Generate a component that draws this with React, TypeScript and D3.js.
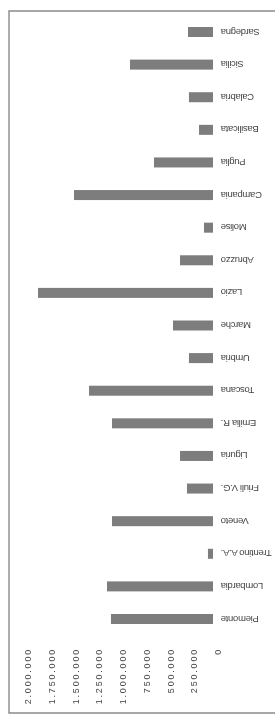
import React, { useRef, useEffect } from 'react';
import * as d3 from 'd3';

// regions, top of the picture first (the chart is turned a quarter left)
const regions = [
  'Sardegna', 'Sicilia', 'Calabria', 'Basilicata', 'Puglia', 'Campania',
  'Molise', 'Abruzzo', 'Lazio', 'Marche', 'Umbria', 'Toscana', 'Emilia R.',
  'Liguria', 'Friuli V.G.', 'Veneto', 'Trentino A.A.', 'Lombardia', 'Piemonte',
];
const values = [
  263000, 874000, 253000, 147000, 621000, 1463000,
  95000, 347000, 1842000, 421000, 253000, 1305000, 1063000,
  347000, 274000, 1063000, 53000, 1116000, 1074000,
];
const ticks = [0, 250000, 500000, 750000, 1000000, 1250000, 1500000, 1750000, 2000000];

const W = 275;
const H = 718;

const App = () => {
  const svgRef = useRef<SVGSVGElement>(null);

  useEffect(() => {
    const svg = d3.select(svgRef.current);
    svg.selectAll('*').remove();

    const fmt = d3.formatLocale({ decimal: ',', thousands: '.', grouping: [3], currency: ['', ''] }).format(',d');

    svg.append('defs').append('filter')
      .attr('id', 'soft')
      .append('feGaussianBlur')
      .attr('stdDeviation', 0.5);

    const g = svg.append('g').attr('filter', 'url(#soft)');

    const x = d3.scaleLinear().domain([0, 2000000]).range([213, 23]);
    const y = d3.scalePoint().domain(regions).range([32, 619]);
    const barH = 10;

    // frame
    g.append('path')
      .attr('d', `M${W},11 H9 V713 H${W}`)
      .attr('fill', 'none')
      .attr('stroke', '#8a8a8a')
      .attr('stroke-width', 1.4);

    g.selectAll('rect.bar')
      .data(regions)
      .enter()
      .append('rect')
      .attr('class', 'bar')
      .attr('x', (d, i) => x(values[i]))
      .attr('y', d => (y(d) as number) - barH / 2)
      .attr('width', (d, i) => x(0) - x(values[i]))
      .attr('height', barH)
      .attr('fill', '#7d7d7d');

    // category labels, upside down
    g.selectAll('text.cat')
      .data(regions)
      .enter()
      .append('text')
      .attr('class', 'cat')
      .attr('transform', d => `translate(221, ${(y(d) as number) - 3.5}) rotate(180)`)
      .attr('text-anchor', 'end')
      .attr('font-family', 'Liberation Sans, Arial, sans-serif')
      .attr('font-size', 9.5)
      .attr('letter-spacing', -0.3)
      .attr('fill', '#444')
      .text(d => d);

    // value ticks, reading bottom to top
    g.selectAll('text.tick')
      .data(ticks)
      .enter()
      .append('text')
      .attr('class', 'tick')
      .attr('transform', d => `translate(${x(d) + 8}, 648) rotate(-90)`)
      .attr('text-anchor', 'end')
      .attr('font-family', 'Liberation Sans, Arial, sans-serif')
      .attr('font-size', 9)
      .attr('letter-spacing', 1.8)
      .attr('fill', '#444')
      .text(d => fmt(d));
  }, []);

  return (
    <svg
      ref={svgRef}
      width={W}
      height={H}
      style={{ position: 'absolute', left: 0, top: 0, background: '#fff' }}
    ></svg>
  );
};

export default App;
